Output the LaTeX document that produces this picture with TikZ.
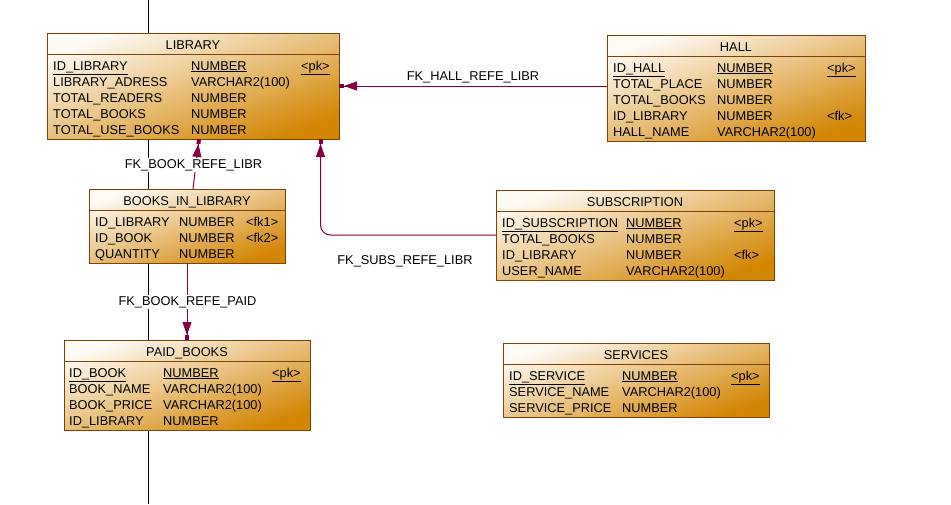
\documentclass[tikz,border=0pt]{standalone}
\usepackage{fontspec}
\setmainfont{Liberation Sans}
\usetikzlibrary{arrows.meta}
\definecolor{fkcol}{RGB}{128,0,64}
\definecolor{boxborder}{RGB}{128,64,0}
\definecolor{gradlight}{RGB}{254,250,244}
\definecolor{graddark}{RGB}{210,134,4}
\begin{document}
\begin{tikzpicture}[x=1pt,y=-1pt,
  tbl/.style={draw=boxborder, line width=1pt, top color=gradlight, bottom color=graddark, shading angle=20, inner sep=0pt, outer sep=0pt, anchor=north west},
  txt/.style={font=\fontsize{12.8pt}{15pt}\selectfont, inner sep=0pt, anchor=base west},
  ttl/.style={txt, anchor=base},
  fklab/.style={txt, anchor=base, inner sep=1.5pt},
  fklabw/.style={fklab, fill=white},
  fk/.style={draw=fkcol, line width=1pt, -{Triangle[length=13pt,width=9pt] Rectangle[length=5pt,width=4pt]}},
  hdr/.style={draw=boxborder, line width=1pt},
  pageline/.style={draw=black, line width=1pt}]
\useasboundingbox[fill=white] (0,0) rectangle (951,504);
% page boundary line
\coordinate (pgtop) at (148,0);
\coordinate (pgbot) at (148,504);
\draw[pageline] (pgtop) -- (pgbot);

% ---------- LIBRARY ----------
\node[tbl, minimum width=292pt, minimum height=106pt] (library) at (47,33) {};
\draw[hdr] ([yshift=-21pt]library.north west) -- ([yshift=-21pt]library.north east);
\node[ttl] (library-t) at ([yshift=-16pt]library.north) {LIBRARY};
\node[txt] (library-1a) at (53,70) {\underline{ID\_LIBRARY}};
\node[txt] (library-1b) at (191,70) {\underline{NUMBER}};
\node[txt] (library-1c) at (301,70) {\underline{<pk>}};
\node[txt] (library-2a) at (53,86) {LIBRARY\_ADRESS};
\node[txt] (library-2b) at (191,86) {VARCHAR2(100)};
\node[txt] (library-3a) at (53,102) {TOTAL\_READERS};
\node[txt] (library-3b) at (191,102) {NUMBER};
\node[txt] (library-4a) at (53,118) {TOTAL\_BOOKS};
\node[txt] (library-4b) at (191,118) {NUMBER};
\node[txt] (library-5a) at (53,134) {TOTAL\_USE\_BOOKS};
\node[txt] (library-5b) at (191,134) {NUMBER};

% ---------- HALL ----------
\node[tbl, minimum width=258pt, minimum height=106pt] (hall) at (607,35) {};
\draw[hdr] ([yshift=-21pt]hall.north west) -- ([yshift=-21pt]hall.north east);
\node[ttl] (hall-t) at ([yshift=-16pt]hall.north) {HALL};
\node[txt] (hall-1a) at (613,72) {\underline{ID\_HALL}};
\node[txt] (hall-1b) at (717,72) {\underline{NUMBER}};
\node[txt] (hall-1c) at (827,72) {\underline{<pk>}};
\node[txt] (hall-2a) at (613,88) {TOTAL\_PLACE};
\node[txt] (hall-2b) at (717,88) {NUMBER};
\node[txt] (hall-3a) at (613,104) {TOTAL\_BOOKS};
\node[txt] (hall-3b) at (717,104) {NUMBER};
\node[txt] (hall-4a) at (613,120) {ID\_LIBRARY};
\node[txt] (hall-4b) at (717,120) {NUMBER};
\node[txt] (hall-4c) at (827,120) {<fk>};
\node[txt] (hall-5a) at (613,136) {HALL\_NAME};
\node[txt] (hall-5b) at (717,136) {VARCHAR2(100)};

% ---------- BOOKS_IN_LIBRARY ----------
\node[tbl, minimum width=196pt, minimum height=74pt] (books) at (89,189) {};
\draw[hdr] ([yshift=-21pt]books.north west) -- ([yshift=-21pt]books.north east);
\node[ttl] (books-t) at ([yshift=-16pt]books.north) {BOOKS\_IN\_LIBRARY};
\node[txt] (books-1a) at (95,226) {ID\_LIBRARY};
\node[txt] (books-1b) at (179,226) {NUMBER};
\node[txt] (books-1c) at (246,226) {<fk1>};
\node[txt] (books-2a) at (95,242) {ID\_BOOK};
\node[txt] (books-2b) at (179,242) {NUMBER};
\node[txt] (books-2c) at (246,242) {<fk2>};
\node[txt] (books-3a) at (95,258) {QUANTITY};
\node[txt] (books-3b) at (179,258) {NUMBER};

% ---------- SUBSCRIPTION ----------
\node[tbl, minimum width=278pt, minimum height=90pt] (subs) at (496,190) {};
\draw[hdr] ([yshift=-21pt]subs.north west) -- ([yshift=-21pt]subs.north east);
\node[ttl] (subs-t) at ([yshift=-16pt]subs.north) {SUBSCRIPTION};
\node[txt] (subs-1a) at (502,227) {\underline{ID\_SUBSCRIPTION}};
\node[txt] (subs-1b) at (626,227) {\underline{NUMBER}};
\node[txt] (subs-1c) at (734,227) {\underline{<pk>}};
\node[txt] (subs-2a) at (502,243) {TOTAL\_BOOKS};
\node[txt] (subs-2b) at (626,243) {NUMBER};
\node[txt] (subs-3a) at (502,259) {ID\_LIBRARY};
\node[txt] (subs-3b) at (626,259) {NUMBER};
\node[txt] (subs-3c) at (734,259) {<fk>};
\node[txt] (subs-4a) at (502,275) {USER\_NAME};
\node[txt] (subs-4b) at (626,275) {VARCHAR2(100)};

% ---------- PAID_BOOKS ----------
\node[tbl, minimum width=246pt, minimum height=90pt] (paid) at (64,340) {};
\draw[hdr] ([yshift=-21pt]paid.north west) -- ([yshift=-21pt]paid.north east);
\node[ttl] (paid-t) at ([yshift=-16pt]paid.north) {PAID\_BOOKS};
\node[txt] (paid-1a) at (69,377) {\underline{ID\_BOOK}};
\node[txt] (paid-1b) at (163,377) {\underline{NUMBER}};
\node[txt] (paid-1c) at (272,377) {\underline{<pk>}};
\node[txt] (paid-2a) at (69,393) {BOOK\_NAME};
\node[txt] (paid-2b) at (163,393) {VARCHAR2(100)};
\node[txt] (paid-3a) at (69,409) {BOOK\_PRICE};
\node[txt] (paid-3b) at (163,409) {VARCHAR2(100)};
\node[txt] (paid-4a) at (69,425) {ID\_LIBRARY};
\node[txt] (paid-4b) at (163,425) {NUMBER};

% ---------- SERVICES ----------
\node[tbl, minimum width=266pt, minimum height=74pt] (services) at (503,343) {};
\draw[hdr] ([yshift=-21pt]services.north west) -- ([yshift=-21pt]services.north east);
\node[ttl] (services-t) at ([yshift=-16pt]services.north) {SERVICES};
\node[txt] (services-1a) at (509,380) {\underline{ID\_SERVICE}};
\node[txt] (services-1b) at (622,380) {\underline{NUMBER}};
\node[txt] (services-1c) at (731,380) {\underline{<pk>}};
\node[txt] (services-2a) at (509,396) {SERVICE\_NAME};
\node[txt] (services-2b) at (622,396) {VARCHAR2(100)};
\node[txt] (services-3a) at (509,412) {SERVICE\_PRICE};
\node[txt] (services-3b) at (622,412) {NUMBER};

% ---------- connectors ----------
\draw[fk] (hall.west |- library.east) -- (library.east);
\draw[fk] ([xshift=6pt]books.north) -- ([xshift=6pt]library.south);
\draw[fk] (books.south) -- (books.south |- paid.north);
\draw[fk, rounded corners=10pt] (subs.west) -| ([xshift=127.5pt]library.south);

% ---------- labels ----------
\node[fklab] (lab-hall) at (473,80) {FK\_HALL\_REFE\_LIBR};
\node[fklabw] (lab-bookl) at (193.5,168) {FK\_BOOK\_REFE\_LIBR};
\node[fklabw] (lab-bookp) at (187.5,305) {FK\_BOOK\_REFE\_PAID};
\node[fklab] (lab-subs) at (405,264) {FK\_SUBS\_REFE\_LIBR};
\end{tikzpicture}
\end{document}
